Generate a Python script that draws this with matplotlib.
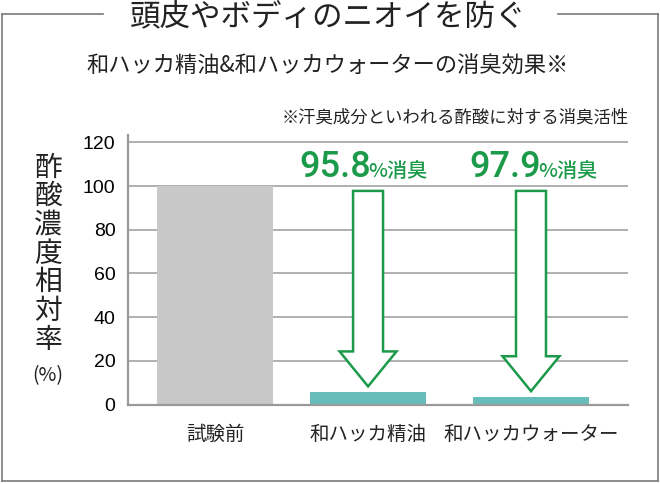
import matplotlib.pyplot as plt
from matplotlib.patches import Polygon
from matplotlib.lines import Line2D

plt.rcParams['font.family'] = ['Noto Sans CJK JP', 'DejaVu Sans']

categories = ['試験前', '和ハッカ精油', '和ハッカウォーター']
values = [100, 5.5, 3.3]
reductions = ['95.8', '97.9']
yticks = [0, 20, 40, 60, 80, 100, 120]
ylabel_chars = ['酢', '酸', '濃', '度', '相', '対', '率']

title = '頭皮やボディのニオイを防ぐ'
subtitle = '和ハッカ精油&和ハッカウォーターの消臭効果※'
note = '※汗臭成分といわれる酢酸に対する消臭活性'

W, H = 660, 484
green = '#1b9a4a'
grid_c = '#9a9a9a'
border_c = '#7a7a7a'
positions = [0, 1, 2.065]
label_shift = [0.02, 0.067]
bar_colors = ['#c8c8c8', '#66bdb9', '#66bdb9']


def fx(px):
    return px / W


def fy(py):
    return 1 - py / H


fig = plt.figure(figsize=(6.6, 4.84), dpi=100)
ax = fig.add_axes([fx(128), fy(404.5), fx(628) - fx(128), fy(135) - fy(404.5)])

ax.set_ylim(0, 123.4)
ax.set_xlim(-0.569, 2.699)
for v in yticks[1:]:
    ax.axhline(v, color=grid_c, lw=1.1, zorder=1)
ax.bar(positions, values, width=0.755, color=bar_colors, zorder=2)

for s in ['top', 'right']:
    ax.spines[s].set_visible(False)
for s in ['left', 'bottom']:
    ax.spines[s].set_color(grid_c)
    ax.spines[s].set_linewidth(1.6)
    ax.spines[s].set_zorder(3)

ax.set_yticks(yticks)
ax.set_yticklabels([str(v) for v in yticks], family=['Liberation Sans', 'DejaVu Sans'], fontsize=14)
ax.set_xticks(positions)
ax.set_xticklabels(categories, fontsize=14, color='#222222')
ax.tick_params(axis='y', length=0, pad=9)
ax.tick_params(axis='x', length=0, pad=14)

# arrows and reduction labels
sw, hw = 0.196, 0.372
for pos, val, red, shift in zip(positions[1:], values[1:], reductions, label_shift):
    tip = val + 2.8
    hs = tip + 16
    top = 97.8
    pts = [(pos - sw / 2, top), (pos + sw / 2, top), (pos + sw / 2, hs), (pos + hw / 2, hs),
           (pos, tip), (pos - hw / 2, hs), (pos - sw / 2, hs)]
    ax.add_patch(Polygon(pts, closed=True, facecolor='white', edgecolor=green, lw=1.8, zorder=4))
    split = pos + shift
    ax.text(split, 104.3, red, color=green, fontsize=26, fontweight='medium',
            family=['Roboto', 'DejaVu Sans'], ha='right', va='baseline', zorder=5)
    ax.text(split - 0.02, 104.3, '%消臭', color=green, fontsize=14.5, fontweight='medium',
            ha='left', va='baseline', zorder=5)

# y label, stacked characters
for i, ch in enumerate(ylabel_chars):
    fig.text(fx(48), fy(167.5 + i * 28.7), ch, fontsize=20, ha='center', va='center', color='#222222')
fig.text(fx(48), fy(376), '(%)', fontsize=14, ha='center', va='center', color='#222222')

# titles
fig.text(fx(328), fy(17), title, fontsize=22, ha='center', va='center', color='#222222')
fig.text(fx(328), fy(66), subtitle, fontsize=16, ha='center', va='center', color='#222222')
fig.text(fx(629), fy(117.5), note, fontsize=12.5, ha='right', va='center', color='#222222')

# frame around the chart with a gap for the title
frame = [([2, 103], [14, 14]), ([558, 658], [14, 14]), ([2, 2], [14, 481]),
         ([658, 658], [14, 481]), ([2, 658], [481, 481])]
for xs, ys in frame:
    fig.add_artist(Line2D([fx(x) for x in xs], [fy(y) for y in ys], color=border_c, lw=1.2))

fig.savefig('out.png', dpi=100)
